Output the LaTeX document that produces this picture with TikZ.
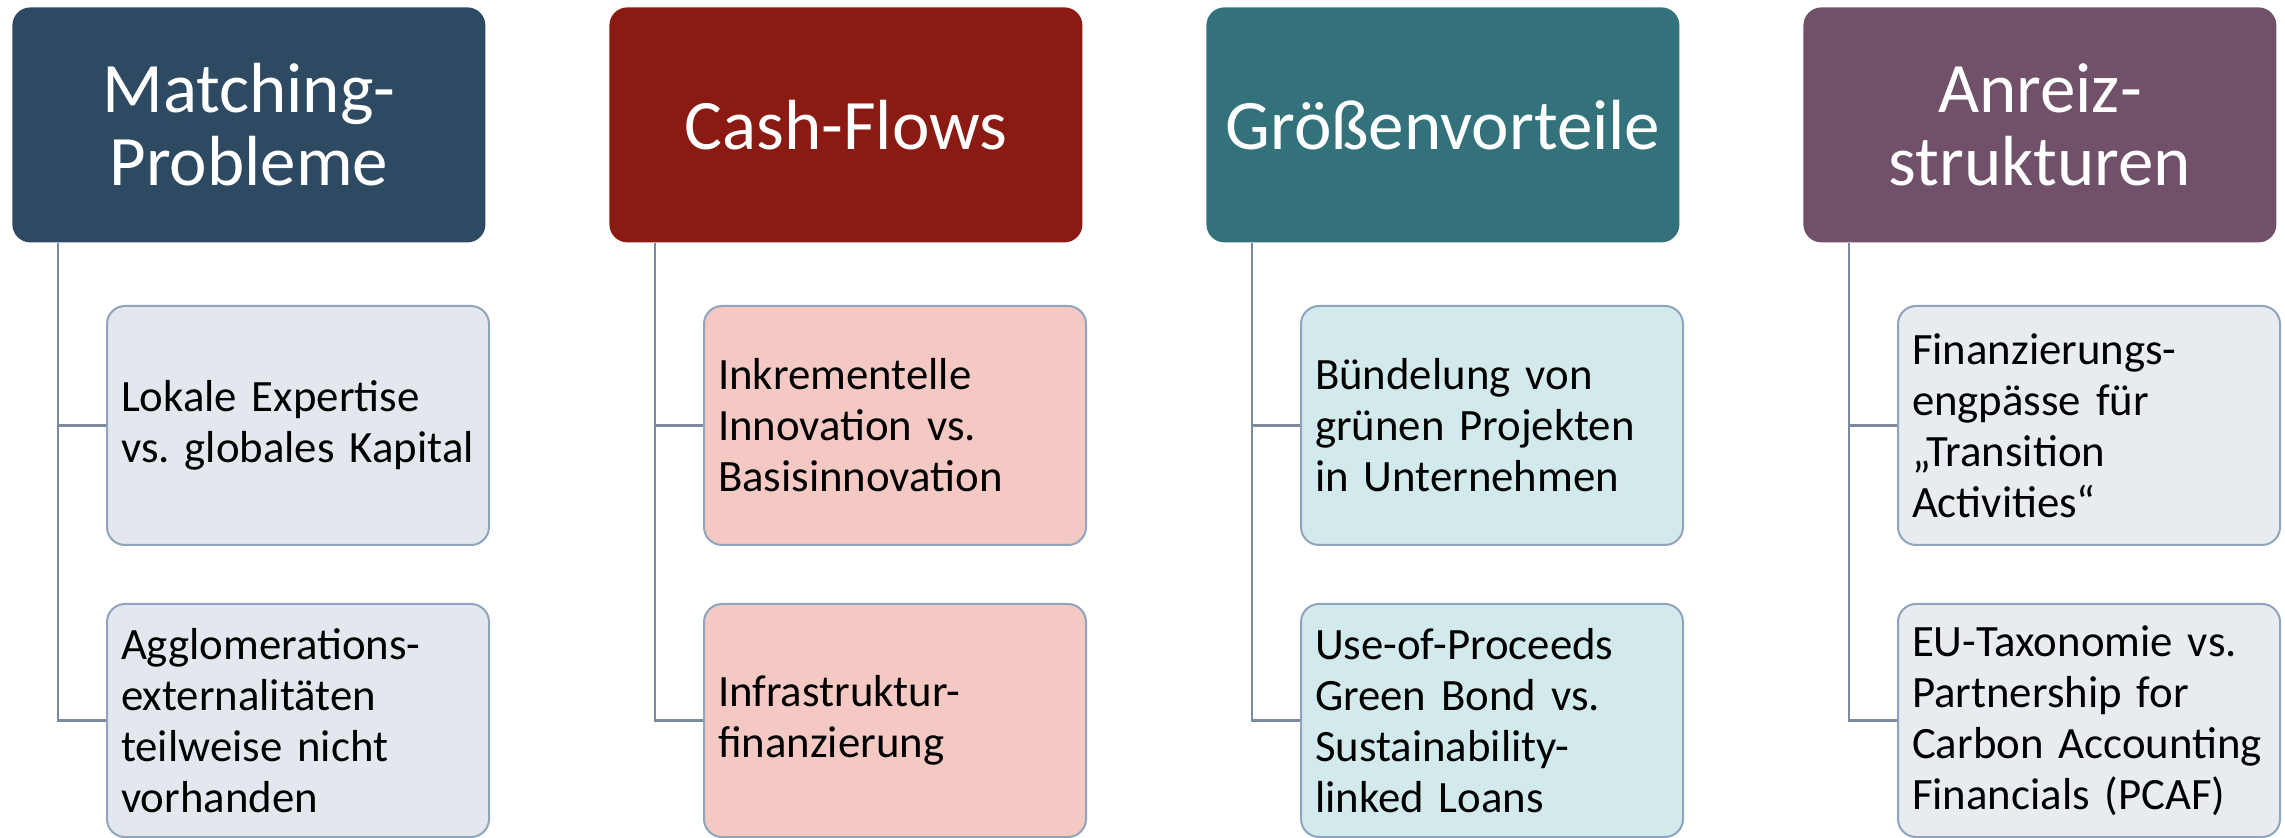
\documentclass[tikz,border=0pt]{standalone}
\usepackage{fontspec}
\setmainfont{Carlito}
\frenchspacing
\hyphenpenalty=10000
\exhyphenpenalty=10000
\hbadness=10000
\hfuzz=20pt
\definecolor{hA}{HTML}{2E4A63}
\definecolor{hB}{HTML}{8A1A12}
\definecolor{hC}{HTML}{33727B}
\definecolor{hD}{HTML}{71506A}
\definecolor{cA}{HTML}{E3E8EF}
\definecolor{cB}{HTML}{F4C8C3}
\definecolor{cC}{HTML}{D2EAEC}
\definecolor{cD}{HTML}{E8EBF0}
\definecolor{bordercol}{HTML}{8FA5BD}
\definecolor{linecol}{HTML}{7D8A9E}
\begin{document}
\begin{tikzpicture}[x=0.5pt,y=-0.5pt,
  head/.style={rounded corners=9pt, minimum width=236.5pt, minimum height=117.5pt,
    anchor=north west, text=white, font=\fontsize{35.5}{36.5}\selectfont, align=center, inner sep=0pt},
  child/.style={draw=bordercol, line width=1pt, rounded corners=9pt, anchor=north west,
    font=\fontsize{22.4}{25.5}\selectfont, align=left, text width=177pt, inner xsep=7pt, inner ysep=4pt},
  upper/.style={child, minimum height=119.5pt},
  lower/.style={child, minimum height=116.5pt},
  conn/.style={draw=linecol, line width=1.3pt}]
\useasboundingbox (0,0) rectangle (2285,838);
% column 1
\node[head, fill=hA] (h1) at (12,7) {Matching-\\Probleme};
\node[upper, fill=cA] (a1) at (106,305) {Lokale Expertise\\\mbox{vs. globales Kapital}};
\node[lower, fill=cA] (b1) at (106,603) {Agglomerations-\\externalitäten\\teilweise nicht\\vorhanden};
% column 2
\node[head, fill=hB] (h2) at (609,7) {Cash-Flows};
\node[upper, fill=cB] (a2) at (703,305) {Inkrementelle\\Innovation vs.\\Basisinnovation};
\node[lower, fill=cB] (b2) at (703,603) {Infrastruktur-\\finanzierung};
% column 3
\node[head, fill=hC] (h3) at (1206,7) {Größenvorteile};
\node[upper, fill=cC] (a3) at (1300,305) {Bündelung von\\grünen Projekten\\in Unternehmen};
\node[lower, fill=cC] (b3) at (1300,603) {Use-of-Proceeds\\Green Bond vs.\\Sustainability-\\linked Loans};
% column 4
\node[head, fill=hD] (h4) at (1803,7) {Anreiz-\\strukturen};
\node[upper, fill=cD] (a4) at (1897,305) {Finanzierungs-\\engpässe für\\„Transition\\Activities“};
\node[lower, fill=cD] (b4) at (1897,603) {EU-Taxonomie vs.\\Partnership for\\\mbox{Carbon Accounting}\\Financials (PCAF)};
% connectors
\foreach \i in {1,2,3,4}{
  \draw[conn] ([xshift=23pt]h\i.south west) |- (a\i.west);
  \draw[conn] ([xshift=23pt]h\i.south west) |- (b\i.west);
}
\end{tikzpicture}
\end{document}
